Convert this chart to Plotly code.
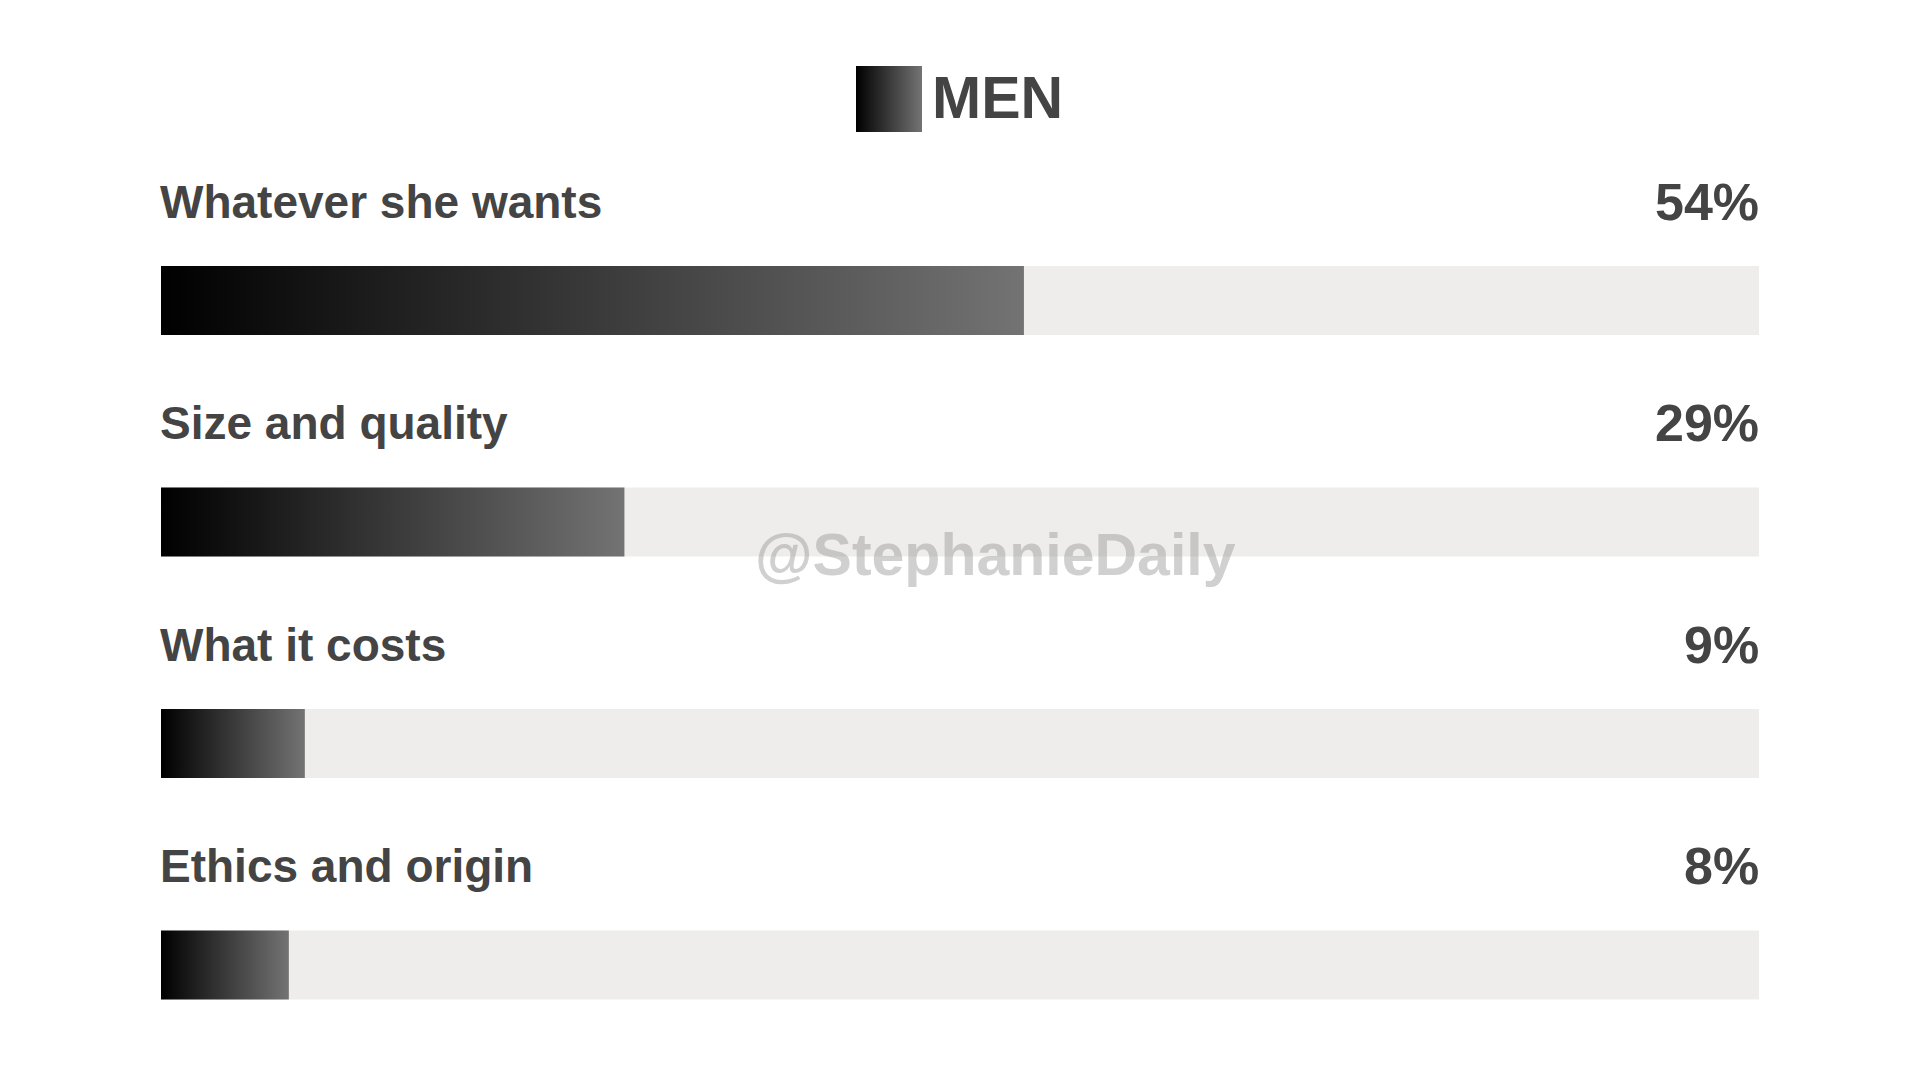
import plotly.graph_objects as go

# Dados (pesquisa - homens)
categories = ["Whatever she wants", "Size and quality", "What it costs", "Ethics and origin"]
values = [54, 29, 9, 8]
value_labels = ["54%", "29%", "9%", "8%"]
legend_name = "MEN"
watermark = "@StephanieDaily"

# Layout em pixels da tela (figura 1920x1080, sem margens)
W, H = 1920, 1080
PAGE_OFF = 8                        # margem do <body> da pagina html
BAR_X0, BAR_X1 = 161, 1759          # 0% e 100%
ROW0_Y, ROW_STEP = 300.5, 221.5     # centro da 1a barra e passo
BAR_H = 69
LABEL_OFFSET = 99                   # texto acima da barra
TEXT_COLOR = "#444444"
TRACK_COLOR = "#EEEDEB"
GRAD = [[0, "#000000"], [1, "#737373"]]
FONT = "Liberation Sans, Arial, sans-serif"

ppu = (BAR_X1 - BAR_X0) / 100.0
x0_fig = BAR_X0 - PAGE_OFF
y0_fig = ROW0_Y - PAGE_OFF
x_range = [-x0_fig / ppu, (W - x0_fig) / ppu]
y_range = [(H - y0_fig) / ROW_STEP, -y0_fig / ROW_STEP]
bar_w = BAR_H / ROW_STEP
lab_off = LABEL_OFFSET / ROW_STEP


def px_to_x(px):
    return (px - BAR_X0) / ppu


def px_to_y(py):
    return (py - ROW0_Y) / ROW_STEP


def paper_x(px):
    return (px - PAGE_OFF) / W


def paper_y(py):
    return 1 - (py - PAGE_OFF) / H


rows = list(range(len(categories)))

fig = go.Figure()

# 1. Trilhas cinza (100%)
fig.add_trace(go.Bar(
    y=rows, x=[100] * len(rows), orientation="h", width=bar_w,
    marker=dict(color=TRACK_COLOR, line=dict(width=0)),
    hoverinfo="skip", showlegend=False,
))

# 2. Barras com gradiente
for i, v in zip(rows, values):
    y0, y1 = i - bar_w / 2, i + bar_w / 2
    fig.add_trace(go.Scatter(
        x=[0, v, v, 0, 0], y=[y0, y0, y1, y1, y0],
        mode="lines", fill="toself",
        fillgradient=dict(type="horizontal", colorscale=GRAD),
        line=dict(width=0, color="rgba(0,0,0,0)"),
        hoverinfo="skip", showlegend=False,
    ))

# 3. Quadrado da legenda
lx0, lx1 = px_to_x(856), px_to_x(922)
ly0, ly1 = px_to_y(66), px_to_y(132)
fig.add_trace(go.Scatter(
    x=[lx0, lx1, lx1, lx0, lx0], y=[ly0, ly0, ly1, ly1, ly0],
    mode="lines", fill="toself",
    fillgradient=dict(type="horizontal", colorscale=GRAD),
    line=dict(width=0, color="rgba(0,0,0,0)"),
    hoverinfo="skip", showlegend=False,
))

# 4. Textos
for i, (cat, lab) in enumerate(zip(categories, value_labels)):
    fig.add_annotation(x=0, y=i - lab_off, xref="x", yref="y", text=cat,
                       showarrow=False, xanchor="left", yanchor="middle", xshift=-3,
                       font=dict(family=FONT, size=46, color=TEXT_COLOR, weight="bold"))
    fig.add_annotation(x=100, y=i - lab_off, xref="x", yref="y", text=lab,
                       showarrow=False, xanchor="right", yanchor="middle", xshift=2,
                       font=dict(family=FONT, size=52, color=TEXT_COLOR, weight="bold"))

fig.add_annotation(x=paper_x(930), y=paper_y(98), xref="paper", yref="paper", text=legend_name,
                   showarrow=False, xanchor="left", yanchor="middle",
                   font=dict(family=FONT, size=59, color=TEXT_COLOR, weight="bold"))

fig.add_annotation(x=paper_x(996), y=paper_y(555), xref="paper", yref="paper", text=watermark,
                   showarrow=False, xanchor="center", yanchor="middle",
                   font=dict(family=FONT, size=59, color="rgba(150,150,150,0.45)", weight="bold"))

fig.update_layout(
    width=W, height=H,
    margin=dict(l=0, r=0, t=0, b=0),
    paper_bgcolor="white", plot_bgcolor="white",
    showlegend=False,
    xaxis=dict(range=x_range, visible=False, fixedrange=True),
    yaxis=dict(range=y_range, visible=False, fixedrange=True),
)

fig.write_html("out.html", config=dict(displayModeBar=False))
